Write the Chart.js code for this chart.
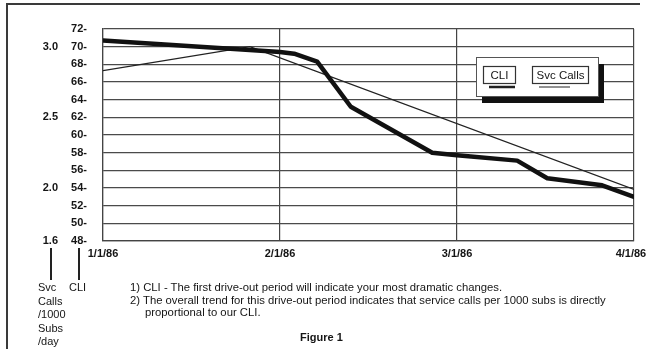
<!DOCTYPE html>
<html>
<head>
<meta charset="utf-8">
<script src="https://cdn.jsdelivr.net/npm/chart.js@4/dist/chart.umd.min.js"></script>
<style>
  html, body { margin: 0; padding: 0; background: #fff; }
  #wrap { position: relative; width: 648px; height: 349px; overflow: hidden;
          font-family: "Liberation Sans", Arial, sans-serif; color: #151515; }
  #frame { position: absolute; left: 6px; top: 3px; width: 632px; height: 360px;
           border-top: 2px solid #3a3a3a; border-left: 2px solid #3a3a3a; }
  canvas { position: absolute; left: 0; top: 0; }
  .txt { position: absolute; font-size: 11px; white-space: nowrap; }
  .vline { position: absolute; width: 1.5px; background: #222; }
</style>
</head>
<body>
<div id="wrap">
  <div id="frame"></div>
  <canvas id="chart" width="648" height="349"></canvas>
  <div class="vline" style="left:50px; top:248px; height:32px;"></div>
  <div class="vline" style="left:78px; top:248px; height:32px;"></div>
  <div class="txt" id="svcTitle" style="left:38px; top:281px; line-height:13.6px;"></div>
  <div class="txt" id="cliTitle" style="left:69px; top:281px; line-height:13.6px;"></div>
  <div class="txt" id="notes" style="left:130px; top:281px; line-height:12.7px; font-size:11.3px;"></div>
  <div class="txt" id="caption" style="left:300px; top:330px; font-weight:bold; line-height:14px;"></div>
</div>
<script>
  // x runs in months from 1/1/86
  const xTickValues = [0, 1, 2, 3];
  const xTickLabels = ["1/1/86", "2/1/86", "3/1/86", "4/1/86"];

  const cliMonths = [0, 0.85, 1.0, 1.08, 1.21, 1.40, 1.86, 2.0, 2.34, 2.51, 2.82, 3.0];
  const cliValues = [70.7, 69.6, 69.4, 69.2, 68.3, 63.2, 58.0, 57.7, 57.1, 55.1, 54.3, 53.0];

  const svcMonths = [0, 0.83, 3.0];
  const svcValues = [2.83, 3.0, 1.99];

  const cliMin = 48, cliMax = 72, cliStep = 2;
  const svcMin = 1.625, svcMax = 3.125;
  const svcTickValues = [1.625, 2.0, 2.5, 3.0];
  const svcTickLabels = ["1.6", "2.0", "2.5", "3.0"];

  const seriesNames = ["CLI", "Svc Calls"];
  const svcTitleLines = ["Svc", "Calls", "/1000", "Subs", "/day"];
  const cliTitleLines = ["CLI"];
  const noteLines = [
    "1) CLI - The first drive-out period will indicate your most dramatic changes.",
    "2) The overall trend for this drive-out period indicates that service calls per 1000 subs is directly",
    "proportional to our CLI.",
  ];
  const captionText = "Figure 1";

  document.getElementById("svcTitle").innerHTML = svcTitleLines.join("<br>");
  document.getElementById("cliTitle").innerHTML = cliTitleLines.join("<br>");
  document.getElementById("notes").innerHTML =
    noteLines[0] + "<br>" + noteLines[1] + "<br><span style='padding-left:15px'>" + noteLines[2] + "</span>";
  document.getElementById("caption").textContent = captionText;

  const FONT = "'Liberation Sans', Arial, sans-serif";
  const INK = "#151515";

  // legend box with a drop shadow, drawn inside the plot
  const boxLegend = {
    id: "boxLegend",
    afterDraw(chart) {
      const ctx = chart.ctx;
      const ca = chart.chartArea;
      const x = ca.right - 158, y = ca.top + 28, w = 122, h = 39;
      ctx.save();
      ctx.fillStyle = "#111";
      ctx.fillRect(x + 6, y + 7, w, h);
      ctx.fillStyle = "#fff";
      ctx.fillRect(x, y, w, h);
      ctx.strokeStyle = "#555";
      ctx.lineWidth = 1;
      ctx.strokeRect(x + 0.5, y + 0.5, w, h);

      ctx.font = "11.5px " + FONT;
      ctx.textAlign = "center";
      ctx.textBaseline = "middle";
      const items = [
        { bx: x + 7, bw: 32, lx0: x + 13, lx1: x + 39, lw: 2.5 },
        { bx: x + 56, bw: 56, lx0: x + 63, lx1: x + 94, lw: 1 },
      ];
      chart.data.datasets.forEach((ds, i) => {
        const it = items[i];
        ctx.strokeStyle = "#333";
        ctx.lineWidth = 1.2;
        ctx.strokeRect(it.bx + 0.5, y + 9.5, it.bw, 17);
        ctx.fillStyle = INK;
        ctx.fillText(ds.label, it.bx + it.bw / 2 + 0.5, y + 18.5);
        ctx.strokeStyle = "#222";
        ctx.lineWidth = it.lw;
        ctx.beginPath();
        ctx.moveTo(it.lx0, y + 30);
        ctx.lineTo(it.lx1, y + 30);
        ctx.stroke();
      });
      ctx.restore();
    },
  };

  const cliPoints = cliMonths.map((m, i) => ({ x: m, y: cliValues[i] }));
  const svcPoints = svcMonths.map((m, i) => ({ x: m, y: svcValues[i] }));

  new Chart(document.getElementById("chart"), {
    type: "line",
    data: {
      datasets: [
        {
          label: seriesNames[0],
          data: cliPoints,
          yAxisID: "y",
          borderColor: "#111",
          borderWidth: 4.5,
          borderJoinStyle: "round",
          borderCapStyle: "round",
          pointRadius: 0,
          tension: 0,
          fill: false,
        },
        {
          label: seriesNames[1],
          data: svcPoints,
          yAxisID: "y1",
          borderColor: "#222",
          borderWidth: 1.3,
          pointRadius: 0,
          tension: 0,
          fill: false,
        },
      ],
    },
    options: {
      responsive: false,
      animation: false,
      devicePixelRatio: 1,
      layout: { padding: { top: 29, right: 14, left: 0, bottom: 0 } },
      plugins: { legend: { display: false }, tooltip: { enabled: false } },
      scales: {
        x: {
          type: "linear",
          min: 0,
          max: 3,
          afterBuildTicks: (s) => { s.ticks = xTickValues.map((v) => ({ value: v })); },
          afterFit: (s) => { s.height = 108; s.paddingLeft = 0; s.paddingRight = 0; },
          grid: { color: "#444", lineWidth: 1.2, drawTicks: false },
          border: { color: "#444", width: 1.2 },
          ticks: {
            padding: 6,
            maxRotation: 0,
            color: INK,
            font: { family: FONT, size: 11, weight: "bold" },
            // last label sits a little inside the right edge, as in the print
            callback: (v, i, arr) => xTickLabels[xTickValues.indexOf(v)] + (i === arr.length - 1 ? "\u00a0\u00a0" : ""),
          },
        },
        y: {
          position: "left",
          weight: 0,
          min: cliMin,
          max: cliMax,
          afterFit: (s) => { s.width = 43; },
          grid: { color: "#4a4a4a", lineWidth: 1.2, drawTicks: false },
          border: { color: "#444", width: 1.2 },
          ticks: {
            stepSize: cliStep,
            padding: 16,
            color: INK,
            font: { family: FONT, size: 11, weight: "bold" },
            callback: (v) => v + "-",
          },
        },
        y1: {
          position: "left",
          weight: 1,
          min: svcMin,
          max: svcMax,
          afterBuildTicks: (s) => { s.ticks = svcTickValues.map((v) => ({ value: v })); },
          afterFit: (s) => { s.width = 60; },
          grid: { display: false, drawTicks: false },
          border: { display: false },
          ticks: {
            padding: 2,
            color: INK,
            font: { family: FONT, size: 11, weight: "bold" },
            callback: (v) => svcTickLabels[svcTickValues.indexOf(v)],
          },
        },
      },
    },
    plugins: [boxLegend],
  });
</script>
</body>
</html>
